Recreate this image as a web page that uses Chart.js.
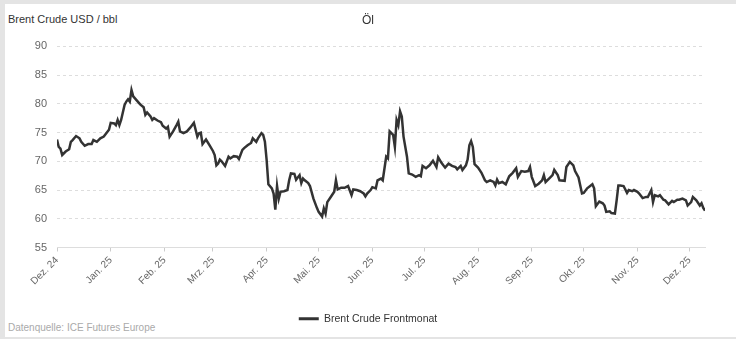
<!DOCTYPE html>
<html lang="de">
<head>
<meta charset="utf-8">
<title>Öl</title>
<script src="https://cdn.jsdelivr.net/npm/chart.js@4.4.1/dist/chart.umd.min.js"></script>
<style>
  html, body { margin: 0; padding: 0; }
  body {
    width: 736px; height: 339px; position: relative; overflow: hidden;
    background: #e4e4e4;
    font-family: Arial, "Liberation Sans", Helvetica, sans-serif;
  }
  .panel { position: absolute; left: 5px; top: 4px; right: 0; bottom: 2px; background: #fff; }
  .einheit { position: absolute; left: 8px; top: 13px; font-size: 11px; color: #333; }
  .quelle { position: absolute; left: 8px; top: 322px; font-size: 10px; color: #aaa; }
  #chartOel { position: absolute; left: 0; top: 0; }
</style>
</head>
<body>
<div class="panel"></div>
<div class="einheit">Brent Crude USD / bbl</div>
<div class="quelle">Datenquelle: ICE Futures Europe</div>
<canvas id="chartOel" width="736" height="339"></canvas>

<script>
const datum = [
  '2024-12-01','2024-12-02','2024-12-03','2024-12-04','2024-12-06','2024-12-08','2024-12-09','2024-12-10','2024-12-12','2024-12-14',
  '2024-12-15','2024-12-17','2024-12-19','2024-12-21','2024-12-22','2024-12-24','2024-12-26','2024-12-28','2024-12-29','2024-12-31',
  '2025-01-01','2025-01-03','2025-01-04','2025-01-05','2025-01-06','2025-01-07','2025-01-09','2025-01-10','2025-01-11','2025-01-12',
  '2025-01-13','2025-01-14','2025-01-16','2025-01-18','2025-01-20','2025-01-21','2025-01-22','2025-01-24','2025-01-25','2025-01-26',
  '2025-01-28','2025-01-30','2025-01-31','2025-02-02','2025-02-03','2025-02-04','2025-02-06','2025-02-08','2025-02-09','2025-02-10',
  '2025-02-12','2025-02-14','2025-02-16','2025-02-18','2025-02-20','2025-02-21','2025-02-22','2025-02-23','2025-02-24','2025-02-25',
  '2025-02-27','2025-03-01','2025-03-02','2025-03-03','2025-03-04','2025-03-05','2025-03-06','2025-03-08','2025-03-10','2025-03-11',
  '2025-03-13','2025-03-15','2025-03-16','2025-03-18','2025-03-19','2025-03-21','2025-03-23','2025-03-24','2025-03-26','2025-03-27',
  '2025-03-29','2025-03-30','2025-03-31','2025-04-01','2025-04-02','2025-04-04','2025-04-05','2025-04-06','2025-04-07','2025-04-08',
  '2025-04-09','2025-04-11','2025-04-13','2025-04-14','2025-04-15','2025-04-17','2025-04-18','2025-04-20','2025-04-21','2025-04-22',
  '2025-04-23','2025-04-25','2025-04-26','2025-04-28','2025-04-30','2025-05-01','2025-05-03','2025-05-04','2025-05-05','2025-05-06',
  '2025-05-08','2025-05-10','2025-05-11','2025-05-12','2025-05-14','2025-05-16','2025-05-18','2025-05-20','2025-05-21','2025-05-23',
  '2025-05-25','2025-05-27','2025-05-28','2025-05-29','2025-05-31','2025-06-01','2025-06-03','2025-06-04','2025-06-06','2025-06-07',
  '2025-06-09','2025-06-10','2025-06-11','2025-06-13','2025-06-14','2025-06-15','2025-06-16','2025-06-17','2025-06-18','2025-06-19',
  '2025-06-21','2025-06-22','2025-06-24','2025-06-26','2025-06-28','2025-06-29','2025-06-30','2025-07-02','2025-07-04','2025-07-06',
  '2025-07-08','2025-07-09','2025-07-11','2025-07-13','2025-07-15','2025-07-17','2025-07-19','2025-07-20','2025-07-22','2025-07-23',
  '2025-07-25','2025-07-26','2025-07-27','2025-07-28','2025-07-29','2025-07-30','2025-08-01','2025-08-03','2025-08-05','2025-08-06',
  '2025-08-08','2025-08-10','2025-08-11','2025-08-12','2025-08-13','2025-08-15','2025-08-17','2025-08-19','2025-08-21','2025-08-23',
  '2025-08-24','2025-08-26','2025-08-28','2025-08-30','2025-08-31','2025-09-01','2025-09-03','2025-09-05','2025-09-07','2025-09-08',
  '2025-09-09','2025-09-11','2025-09-13','2025-09-14','2025-09-16','2025-09-17','2025-09-20','2025-09-21','2025-09-23','2025-09-25',
  '2025-09-26','2025-09-28','2025-09-30','2025-10-01','2025-10-03','2025-10-06','2025-10-07','2025-10-08','2025-10-10','2025-10-12',
  '2025-10-13','2025-10-14','2025-10-16','2025-10-17','2025-10-19','2025-10-20','2025-10-21','2025-10-22','2025-10-24','2025-10-26',
  '2025-10-27','2025-10-29','2025-10-30','2025-11-01','2025-11-02','2025-11-04','2025-11-06','2025-11-07','2025-11-09','2025-11-10',
  '2025-11-11','2025-11-13','2025-11-14','2025-11-16','2025-11-17','2025-11-19','2025-11-21','2025-11-22','2025-11-24','2025-11-25',
  '2025-11-27','2025-11-29','2025-11-30','2025-12-02','2025-12-03','2025-12-05','2025-12-07','2025-12-08','2025-12-09','2025-12-10',
];

const brent = [
  73.8, 72.5, 72.2, 71.1, 71.7, 72.1, 73.4, 73.7, 74.4, 74.0,
  73.4, 72.7, 73.0, 73.0, 73.7, 73.4, 74.0, 74.3, 74.7, 75.5,
  76.7, 76.6, 76.3, 77.2, 76.3, 77.2, 79.8, 80.4, 80.8, 80.4,
  82.4, 81.3, 80.6, 79.9, 79.4, 78.1, 78.5, 77.8, 77.2, 77.5,
  77.1, 76.8, 76.2, 75.7, 76.0, 74.3, 75.2, 76.3, 76.9, 75.2,
  74.9, 75.2, 75.9, 76.7, 74.3, 74.9, 75.0, 73.0, 73.4, 73.8,
  72.8, 71.8, 71.1, 69.3, 69.6, 70.3, 70.0, 69.2, 70.8, 70.5,
  70.9, 70.8, 70.4, 72.0, 72.3, 72.8, 73.2, 74.0, 73.4, 74.0,
  74.9, 74.6, 73.4, 70.2, 66.0, 65.3, 64.4, 61.6, 65.7, 63.5,
  64.7, 64.8, 65.0, 66.7, 67.9, 67.8, 66.8, 67.6, 66.2, 67.0,
  66.7, 66.2, 65.7, 63.5, 61.9, 61.2, 60.4, 61.8, 60.9, 62.9,
  63.8, 64.7, 66.7, 65.1, 65.4, 65.4, 65.7, 64.1, 65.1, 65.0,
  64.8, 64.4, 63.9, 64.4, 65.0, 65.5, 65.3, 66.7, 67.0, 66.7,
  70.8, 70.5, 75.2, 74.6, 72.5, 77.2, 76.3, 78.7, 77.8, 74.3,
  70.8, 67.9, 67.7, 67.3, 67.6, 67.4, 69.2, 68.8, 69.3, 70.1,
  69.0, 70.7, 69.7, 68.9, 69.6, 69.2, 69.0, 68.6, 69.2, 68.5,
  69.3, 70.3, 72.8, 73.5, 72.5, 69.5, 68.9, 68.0, 66.7, 66.4,
  66.7, 66.4, 65.8, 66.8, 66.2, 66.4, 66.0, 67.4, 68.0, 68.8,
  67.3, 68.3, 68.2, 68.3, 69.0, 67.3, 65.7, 66.1, 66.7, 67.6,
  66.4, 67.0, 67.6, 68.5, 67.6, 66.7, 66.6, 69.0, 69.9, 69.3,
  68.3, 67.2, 64.4, 64.5, 65.3, 66.0, 65.3, 62.2, 63.0, 62.7,
  62.3, 61.2, 61.3, 61.0, 60.9, 63.2, 65.8, 65.8, 65.7, 64.5,
  65.0, 64.8, 65.0, 64.7, 64.4, 63.6, 63.8, 63.8, 65.0, 62.9,
  64.1, 63.9, 64.1, 63.3, 63.2, 62.5, 63.1, 62.9, 63.3, 63.3,
  63.5, 63.2, 62.3, 62.9, 63.8, 63.2, 62.3, 62.7, 61.9, 61.4,
];

const monatsStart = [
  '2024-12-01','2025-01-01','2025-02-01','2025-03-01','2025-04-01','2025-05-01','2025-06-01',
  '2025-07-01','2025-08-01','2025-09-01','2025-10-01','2025-11-01','2025-12-01',
];
const monatsLabels = [
  'Dez. 24','Jan. 25','Feb. 25','Mrz. 25','Apr. 25','Mai. 25','Jun. 25',
  'Jul. 25','Aug. 25','Sep. 25','Okt. 25','Nov. 25','Dez. 25',
];
const yTicks = [55, 60, 65, 70, 75, 80, 85, 90];

// kein Datumsadapter vorhanden -> Tage seit Startdatum auf linearer Achse
const START = Date.UTC(2024, 11, 1);
const tag = (s) => {
  const [y, m, d] = s.split('-').map(Number);
  return Math.round((Date.UTC(y, m - 1, d) - START) / 86400000);
};

const punkte = datum.map((d, i) => ({ x: tag(d), y: brent[i] }));
const monatsTicks = monatsStart.map(tag);

Chart.defaults.font.family = 'Arial, "Liberation Sans", Helvetica, sans-serif';

new Chart(document.getElementById('chartOel'), {
  type: 'line',
  data: {
    datasets: [{
      label: 'Brent Crude Frontmonat',
      data: punkte,
      borderColor: '#333',
      backgroundColor: '#333',
      borderWidth: 2.5,
      pointRadius: 0,
      tension: 0,
      fill: false,
    }],
  },
  options: {
    responsive: false,
    animation: false,
    layout: { padding: { left: 0, right: 0, top: 0, bottom: 5 } },
    plugins: {
      title: {
        display: true,
        text: 'Öl',
        color: '#333',
        font: { size: 12, weight: 'normal' },
        padding: { top: 13, bottom: 19 },
      },
      legend: {
        position: 'bottom',
        labels: {
          boxWidth: 20,
          boxHeight: 3,
          color: '#333',
          font: { size: 10.5 },
          padding: 10,
          generateLabels(chart) {
            const items = Chart.defaults.plugins.legend.labels.generateLabels(chart);
            items.forEach((it) => { it.lineWidth = 0; it.fillStyle = '#333'; });
            return items;
          },
        },
      },
      tooltip: { enabled: false },
    },
    scales: {
      x: {
        type: 'linear',
        min: 0,
        max: tag(datum[datum.length - 1]),
        afterBuildTicks: (s) => { s.ticks = monatsTicks.map((v) => ({ value: v })); },
        afterFit: (s) => { s.height = 56; },
        ticks: {
          autoSkip: false,
          minRotation: 45,
          maxRotation: 45,
          color: '#666',
          font: { size: 10 },
          padding: 3,
          callback: (v, i) => monatsLabels[i],
        },
        grid: { drawOnChartArea: false, drawTicks: true, tickLength: 4, color: '#ccc' },
        border: { color: '#ddd' },
      },
      y: {
        min: 55,
        max: 90,
        afterBuildTicks: (s) => { s.ticks = yTicks.map((v) => ({ value: v })); },
        afterFit: (s) => { s.width = 57; },
        ticks: { color: '#666', font: { size: 11 }, padding: 10 },
        grid: { color: '#ddd', drawTicks: false },
        border: { display: false, dash: [3, 3] },
      },
      // leerer Rand rechts, damit die Legende über die ganze Breite zentriert bleibt
      rand: {
        axis: 'y',
        position: 'right',
        min: 55,
        max: 90,
        afterFit: (s) => { s.width = 31; },
        ticks: { display: false },
        grid: { display: false },
        border: { display: false },
      },
    },
  },
});
</script>
</body>
</html>
